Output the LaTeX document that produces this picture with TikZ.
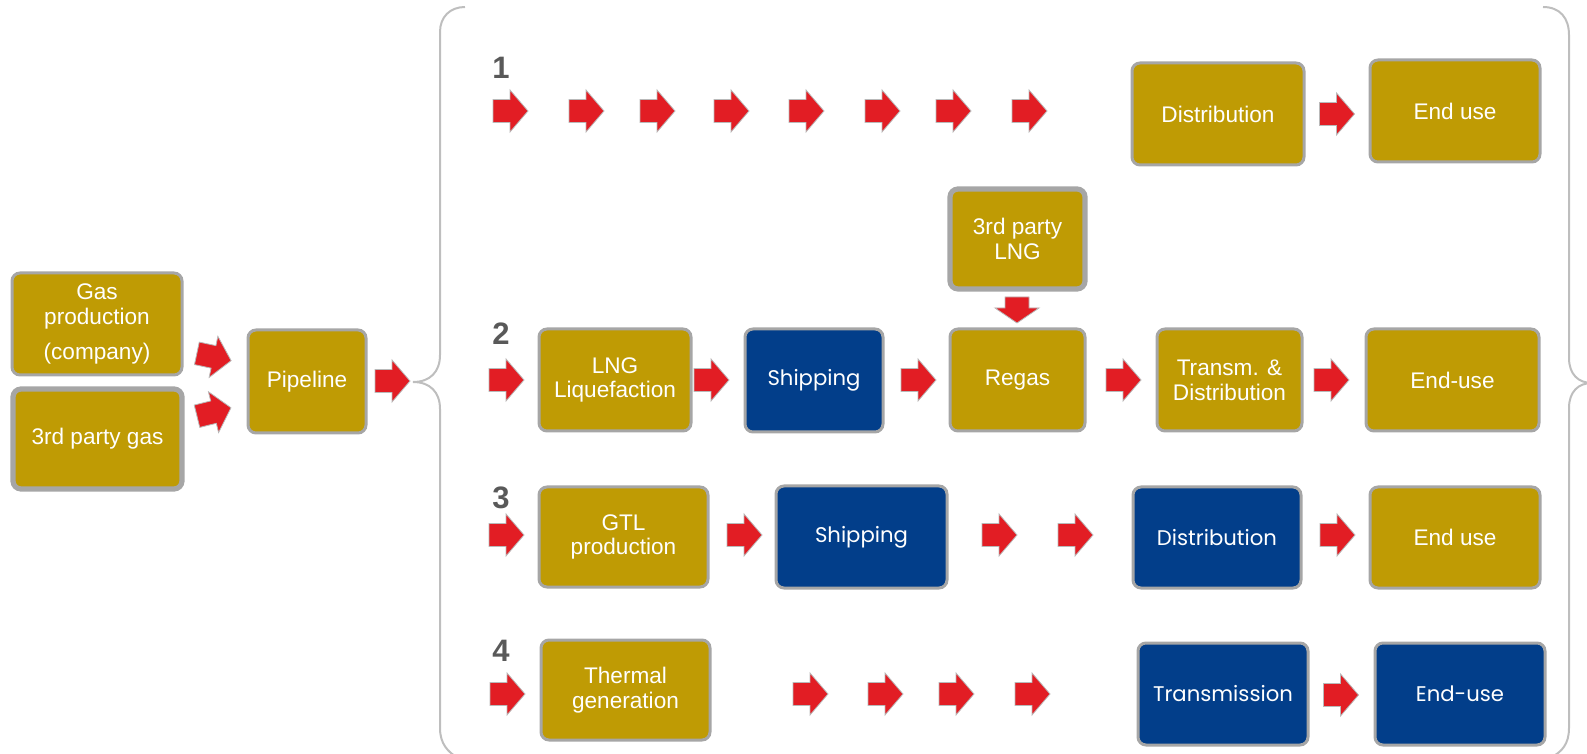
\documentclass[tikz,border=0pt]{standalone}
\usepackage{fontspec}
\setmainfont{Liberation Sans}
\newfontfamily\geofont{Poppins}
\begin{document}
\definecolor{gold}{RGB}{191,155,4}
\definecolor{navy}{RGB}{2,62,138}
\definecolor{rim}{RGB}{166,166,166}
\definecolor{flow}{RGB}{226,29,36}
\definecolor{brace}{RGB}{190,190,190}
\definecolor{num}{RGB}{89,89,89}
\begin{tikzpicture}[x=0.5pt,y=-0.5pt,
  box/.style={draw=rim,line width=1.5pt,rounded corners=4pt,text=white,
    align=center,inner sep=0pt,font=\fontsize{11.3}{12.4}\selectfont},
  goldbox/.style={box,fill=gold},
  heavybox/.style={goldbox,line width=2.6pt},
  navybox/.style={box,fill=navy,font=\geofont\fontsize{10.6}{12.4}\selectfont},
  numlabel/.style={text=num,font=\bfseries\fontsize{15.5}{16}\selectfont,inner sep=0pt},
  arrowfill/.style={fill=flow,draw=gray!55,line width=0.4pt,line join=miter},
  barrow/.pic={\path[arrowfill] (-17.5,-11.5) -- (-0.5,-11.5) -- (-0.5,-21) -- (17.5,0)
     -- (-0.5,21) -- (-0.5,11.5) -- (-17.5,11.5) -- cycle;},
  bdown/.pic={\path[arrowfill] (-12,0) -- (12,0) -- (12,11) -- (22,11) -- (0,26)
     -- (-22,11) -- (-12,11) -- cycle;}
]
\useasboundingbox (0,0) rectangle (1587,754);

% box helper: style, name, x1, y1, x2, y2, text
\newcommand\flowbox[7]{%
  \node[#1,minimum width={(#5-#3)*0.5pt},minimum height={(#6-#4)*0.5pt}]
    (#2) at ({(#3+#5)/2},{(#4+#6)/2}) {#7};}

% sources and pipeline
\flowbox{goldbox}{gasprod}{12}{273}{182}{375}{Gas\\production\\[5.5pt](company)}
\flowbox{heavybox}{thirdgas}{13}{389}{182}{489}{3rd party gas}
\flowbox{goldbox}{pipeline}{248}{330}{366}{433}{Pipeline}
\pic[rotate=-12] at (214,357) {barrow};
\pic[rotate=14] at (214,412) {barrow};
\pic at (392.5,381) {barrow};

% braces around the four chains
\draw[brace,line width=1pt] (465,7) .. controls (450,7) and (440,17) .. (440,32)
  -- (440,355) .. controls (440,372) and (430,382) .. (413,382)
  .. controls (430,382) and (440,392) .. (440,409)
  -- (440,728) .. controls (440,744) and (448,752) .. (458,758);
\draw[brace,line width=1pt] (1543,7) .. controls (1560,7) and (1569,18) .. (1569,35)
  -- (1569,358) .. controls (1569,374) and (1578,383) .. (1592,383)
  .. controls (1578,383) and (1569,392) .. (1569,408)
  -- (1569,728) .. controls (1569,744) and (1562,752) .. (1550,758);

% chain numbers
\node[numlabel] (n1) at (501,68) {1};
\node[numlabel] (n2) at (501,334) {2};
\node[numlabel] (n3) at (501,498) {3};
\node[numlabel] (n4) at (501,651) {4};

% chain 1
\foreach \x in {510.5,586.5,657.5,731.5,806.5,882.5,953.5,1029.5}
  \pic at (\x,111) {barrow};
\flowbox{goldbox}{dist1}{1132}{63}{1304}{165}{Distribution}
\flowbox{goldbox}{end1}{1370}{60}{1540}{162}{End use}
\pic at (1337,114) {barrow};

% chain 2
\flowbox{goldbox}{lng}{539}{329}{691}{431}{LNG\\Liquefaction}
\flowbox{navybox}{ship2}{745}{329}{883}{432}{Shipping}
\flowbox{goldbox}{regas}{950}{329}{1085}{431}{Regas}
\flowbox{heavybox}{thirdlng}{950}{189}{1085}{289}{3rd party\\LNG}
\flowbox{goldbox}{tnd}{1157}{329}{1302}{431}{Transm. \&\\Distribution}
\flowbox{goldbox}{end2}{1366}{329}{1539}{431}{End-use}
\foreach \x in {506.5,711.5,918.5,1123.5,1331.5}
  \pic at (\x,380) {barrow};
\pic at (1017,297) {bdown};

% chain 3
\flowbox{goldbox}{gtl}{539}{487}{708}{587}{GTL\\production}
\flowbox{navybox}{ship3}{776}{486}{947}{588}{Shipping}
\flowbox{navybox}{dist3}{1133}{487}{1301}{588}{Distribution}
\flowbox{goldbox}{end3}{1370}{487}{1540}{588}{End use}
\foreach \x in {506.5,744.5,999.5,1075.5,1337.5}
  \pic at (\x,535) {barrow};

% chain 4
\flowbox{goldbox}{thermal}{541}{640}{710}{740}{Thermal\\generation}
\flowbox{navybox}{trans}{1138}{643}{1308}{745}{Transmission}
\flowbox{navybox}{end4}{1375}{643}{1545}{745}{End-use}
\foreach \x in {507.5,810.5,885.5,956.5,1032.5}
  \pic at (\x,694) {barrow};
\pic at (1341,695) {barrow};
\end{tikzpicture}
\end{document}
